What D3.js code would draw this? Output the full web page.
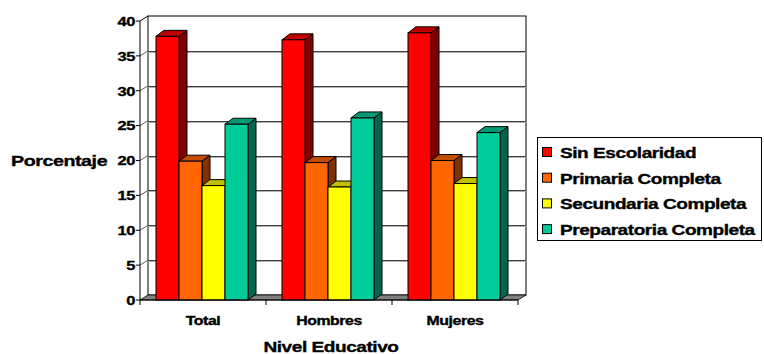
<!DOCTYPE html>
<html>
<head>
<meta charset="utf-8">
<script src="https://cdn.jsdelivr.net/npm/d3@7/dist/d3.min.js"></script>
<style>
  html, body { margin: 0; padding: 0; background: #fff; }
  svg { display: block; }
  text { font-family: "Liberation Sans", Arial, sans-serif; font-weight: bold; fill: #000;
         stroke: #000; stroke-width: 0.35px; letter-spacing: -0.35px; }
</style>
</head>
<body>
<svg id="chart" width="764" height="354"></svg>
<script>
// Porcentaje por nivel educativo
const categories = ["Total", "Hombres", "Mujeres"];
const seriesNames = ["Sin Escolaridad", "Primaria Completa", "Secundaria Completa", "Preparatoria Completa"];
const sinEscolaridad = [37.8, 37.3, 38.3];
const primariaCompleta = [19.9, 19.7, 20.0];
const secundariaCompleta = [16.4, 16.2, 16.7];
const preparatoriaCompleta = [25.2, 26.1, 24.0];
const yTicks = [0, 5, 10, 15, 20, 25, 30, 35, 40];

const seriesValues = [sinEscolaridad, primariaCompleta, secundariaCompleta, preparatoriaCompleta];
const faceColors = [
  { front: "#FF0000", top: "#C00000", side: "#800000" },
  { front: "#FF6600", top: "#C04D00", side: "#803300" },
  { front: "#FFFF00", top: "#C0C000", side: "#808000" },
  { front: "#00CC99", top: "#009973", side: "#00664D" }
];

const svg = d3.select("#chart");
const STRETCH = 1.27;          // wide lettering
const wallDx = 8, wallDy = -5;  // depth of the walls/floor
const barDx = 8, barDy = -6;    // depth of each column

const x = d3.scaleBand().domain(categories).range([140, 518]).padding(0);
const xs = d3.scaleBand().domain(seriesNames).range([16, 108]).padding(0);
const y = d3.scaleLinear().domain([0, 40]).range([300, 21]);

function label(tx, ty, str, size, anchor) {
  svg.append("g")
    .attr("transform", `translate(${tx},${ty}) scale(${STRETCH},1)`)
    .append("text")
    .attr("text-anchor", anchor)
    .style("font-size", size + "px")
    .text(str);
}

const x0 = x.range()[0], x1 = x.range()[1];
const yTop = y(40), yBase = y(0);

// back wall
svg.append("rect")
  .attr("x", x0 + wallDx).attr("y", yTop + wallDy)
  .attr("width", x1 - x0).attr("height", yBase - yTop)
  .attr("fill", "#fff").attr("stroke", "#000").attr("stroke-width", 1);

// gridlines on back wall and side wall
yTicks.filter(t => t > 0 && t < 40).forEach(t => {
  const yy = Math.round(y(t) + wallDy) + 0.5;
  svg.append("line").attr("x1", x0 + wallDx).attr("x2", x1 + wallDx)
    .attr("y1", yy + 1).attr("y2", yy + 1).attr("stroke", "#b0b0b0");
  svg.append("line").attr("x1", x0 + wallDx).attr("x2", x1 + wallDx)
    .attr("y1", yy).attr("y2", yy).attr("stroke", "#404040");
  svg.append("line").attr("x1", x0).attr("y1", y(t))
    .attr("x2", x0 + wallDx).attr("y2", y(t) + wallDy)
    .attr("stroke", "#606060");
});

// side wall top edge
svg.append("line").attr("x1", x0).attr("y1", yTop).attr("x2", x0 + wallDx).attr("y2", yTop + wallDy).attr("stroke", "#000");

// floor
svg.append("path")
  .attr("d", `M${x0},${yBase} L${x1},${yBase} L${x1 + wallDx},${yBase + wallDy} L${x0 + wallDx},${yBase + wallDy} Z`)
  .attr("fill", "#808080").attr("stroke", "#000").attr("stroke-width", 0.8);

// columns
categories.forEach((cat, ci) => {
  seriesNames.forEach((s, si) => {
    const v = seriesValues[si][ci];
    const bx = x(cat) + xs(s);
    const bw = xs.bandwidth();
    const by = y(v);
    const c = faceColors[si];
    // side face
    svg.append("path")
      .attr("d", `M${bx + bw},${by} L${bx + bw + barDx},${by + barDy} L${bx + bw + barDx},${yBase + barDy} L${bx + bw},${yBase} Z`)
      .attr("fill", c.side).attr("stroke", "#000").attr("stroke-width", 1).attr("stroke-linejoin", "round");
    // top face
    svg.append("path")
      .attr("d", `M${bx},${by} L${bx + barDx},${by + barDy} L${bx + bw + barDx},${by + barDy} L${bx + bw},${by} Z`)
      .attr("fill", c.top).attr("stroke", "#000").attr("stroke-width", 1).attr("stroke-linejoin", "round");
    // front face
    svg.append("rect")
      .attr("x", bx).attr("y", by).attr("width", bw).attr("height", yBase - by)
      .attr("fill", c.front).attr("stroke", "#000").attr("stroke-width", 1);
  });
});

// value axis
svg.append("line").attr("x1", x0).attr("x2", x0).attr("y1", yTop).attr("y2", yBase).attr("stroke", "#000");
yTicks.forEach(t => {
  svg.append("line").attr("x1", x0 - 4).attr("x2", x0).attr("y1", y(t)).attr("y2", y(t)).attr("stroke", "#000");
  label(x0 - 5, y(t) + 4.8, String(t), 13, "end");
});

// category axis
svg.append("line").attr("x1", x0).attr("x2", x1).attr("y1", yBase).attr("y2", yBase).attr("stroke", "#000");
[x0].concat(categories.map(c => x(c) + x.bandwidth())).forEach(tx => {
  svg.append("line").attr("x1", tx).attr("x2", tx).attr("y1", yBase).attr("y2", yBase + 5).attr("stroke", "#000");
});
categories.forEach(cat => {
  label(x(cat) + x.bandwidth() / 2, 325, cat, 12.5, "middle");
});

// axis titles
label(331, 352, "Nivel Educativo", 15, "middle");
label(11, 166, "Porcentaje", 15.5, "start");

// legend
const lg = { x: 537, y: 137, w: 224, h: 103 };
svg.append("rect").attr("x", lg.x + 0.5).attr("y", lg.y + 0.5).attr("width", lg.w).attr("height", lg.h)
  .attr("fill", "#fff").attr("stroke", "#000");
seriesNames.forEach((s, i) => {
  const cy = 152 + i * 25.7;
  svg.append("rect").attr("x", 542.5).attr("y", cy - 4.5).attr("width", 9).attr("height", 9)
    .attr("fill", faceColors[i].front).attr("stroke", "#000");
  label(560, cy + 6, s, 15, "start");
});
</script>
</body>
</html>
